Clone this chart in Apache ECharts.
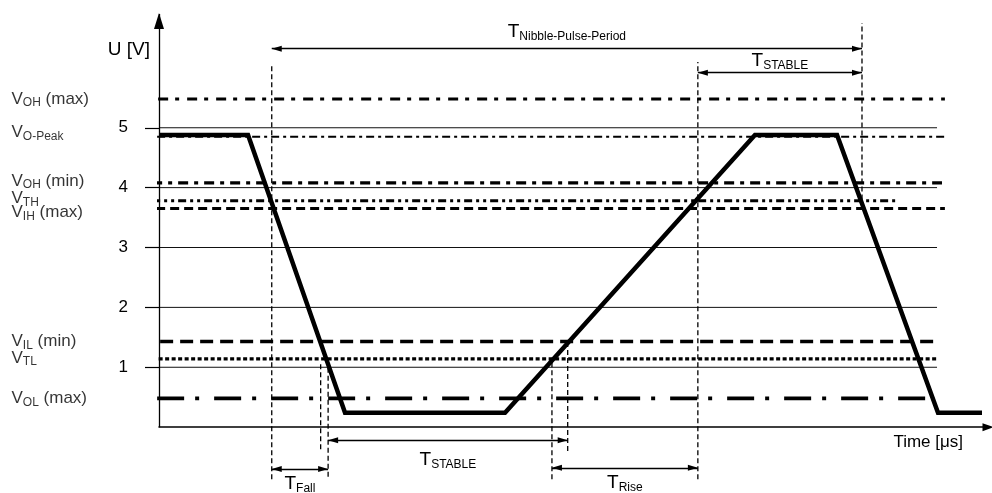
<!DOCTYPE html>
<html><head><meta charset="utf-8">
<script src="https://cdn.jsdelivr.net/npm/echarts@6/dist/echarts.min.js"></script>
<style>html,body{margin:0;padding:0;background:#fff}#c{width:992px;height:493px}</style>
</head><body><div id="c"></div>
<script>
// ---------- data ----------
const yTicks = [1, 2, 3, 4, 5];
const gridlineEnd = 93.85;

const refSub = ['OH', 'O-Peak', 'OH', 'TH', 'IH', 'IL', 'TL', 'OL'];
const refSuffix = [' (max)', '', ' (min)', '', ' (max)', ' (min)', '', ' (max)'];
const refValues = [5.48, 4.85, 4.08, 3.78, 3.65, 1.43, 1.14, 0.48];
const refStart = -7.1;
const refEnd = [94.8, 94.8, 94.45, 89.1, 94.8, 93.85, 93.85, 93.0];

const signalTime = [0, 10.74, 22.44, 41.74, 71.89, 81.79, 93.97, 99.28];
const signalVolt = [4.88, 4.88, 0.24, 0.24, 4.88, 4.88, 0.24, 0.24];

const markerTime = [13.6, 19.5, 20.4, 47.4, 49.3, 65.0, 84.8];
const markerTop = [6.05, 1.10, 1.14, 1.14, 1.43, 6.10, 6.75];
const markerBottom = [-0.87, -0.37, -0.83, -0.87, -0.40, -0.87, 3.80];

const spanSub = ['Nibble-Pulse-Period', 'STABLE', 'STABLE', 'Fall', 'Rise'];
const spanFrom = [13.6, 65.0, 20.4, 13.6, 47.4];
const spanTo = [84.8, 84.8, 49.3, 20.4, 65.0];
const spanLevel = [6.32, 5.92, -0.22, -0.70, -0.68];

const yAxisTop = 6.9;

// ---------- styles (not data) ----------
const FONT = '"Liberation Sans", Arial, sans-serif';
const refStyles = [
  { w: 3.2, dash: [10, 7, 4, 8] },
  { w: 2.2, dash: [8, 4, 3, 4] },
  { w: 3.4, dash: [10, 6, 4, 6] },
  { w: 3.0, dash: [8, 4, 3, 4, 3, 4] },
  { w: 3.0, dash: [9, 5] },
  { w: 3.6, dash: [13, 7] },
  { w: 3.2, dash: [4, 2.5] },
  { w: 3.6, dash: [27, 11, 4, 15] }
];
const refLabelDy = [0, -4, -2, -2, 4, 0, -1, 0];
const refLabelX = -17.85;
const spanLabelPos = ['insideMiddleTop', 'insideMiddleTop', 'insideMiddleBottom', 'insideMiddleBottom', 'insideMiddleBottom'];
const spanLabelDist = [6, 1, 8, 4, 4];
const arrowSize = [6, 10];
const arrowOffset = [0, 5];

const richLeft = {
  v: { fontSize: 17, lineHeight: 20, fontFamily: FONT, color: '#000' },
  s: { fontSize: 12, lineHeight: 14, verticalAlign: 'bottom', fontFamily: FONT, color: '#000' },
  n: { fontSize: 17, lineHeight: 20, fontFamily: FONT, color: '#000' }
};
const richT = {
  t: { fontSize: 19, lineHeight: 22, fontFamily: FONT, color: '#000' },
  s: { fontSize: 12, lineHeight: 14, verticalAlign: 'bottom', fontFamily: FONT, color: '#000' }
};

const series = [];

// grid lines at tick values
yTicks.forEach(v => series.push({
  type: 'line', data: [[0, v], [gridlineEnd, v]], symbol: 'none', silent: true,
  lineStyle: { color: '#111', width: 1 }, z: 1
}));

// reference lines
refValues.forEach((v, i) => series.push({
  type: 'line', data: [[refStart, v], [refEnd[i], v]], symbol: 'none', silent: true, clip: false,
  lineStyle: { color: '#000', width: refStyles[i].w, type: refStyles[i].dash, cap: 'butt' }, z: 2
}));

// reference labels
series.push({
  type: 'scatter', clip: false, silent: true, symbolSize: 1,
  itemStyle: { color: 'rgba(0,0,0,0)' },
  data: refValues.map((v, i) => ({
    value: [refLabelX, v],
    label: {
      show: true, position: 'right', distance: 0, offset: [0, refLabelDy[i]],
      formatter: '{v|V}{s|' + refSub[i] + '}' + (refSuffix[i] ? '{n|' + refSuffix[i] + '}' : ''),
      rich: richLeft
    }
  })),
  z: 5
});

// vertical dashed marker lines
markerTime.forEach((t, i) => series.push({
  type: 'line', data: [[t, markerBottom[i]], [t, markerTop[i]]], symbol: 'none', silent: true, clip: false,
  lineStyle: { color: '#000', width: 1.3, type: [5, 3] }, z: 3
}));

// signal
series.push({
  type: 'line', data: signalTime.map((t, i) => [t, signalVolt[i]]), symbol: 'none', silent: true,
  lineStyle: { color: '#000', width: 4.5, join: 'miter' }, z: 10
});

// annotations: y axis line with arrow + time spans
const mlData = [[
  { coord: [0, 0], symbol: 'none', label: { show: false } },
  { coord: [0, yAxisTop], symbol: 'triangle', symbolSize: [10, 16], symbolOffset: [0, 7] }
]];
spanSub.forEach((s, i) => mlData.push([
  {
    coord: [spanFrom[i], spanLevel[i]], symbol: 'triangle', symbolSize: arrowSize, symbolOffset: arrowOffset,
    label: {
      show: true, position: spanLabelPos[i], distance: spanLabelDist[i],
      formatter: '{t|T}{s|' + s + '}', rich: richT
    }
  },
  { coord: [spanTo[i], spanLevel[i]], symbol: 'triangle', symbolSize: arrowSize, symbolOffset: arrowOffset }
]));
series.push({
  type: 'line', data: [], color: '#000',
  markLine: {
    silent: true, animation: false,
    symbol: ['triangle', 'triangle'],
    lineStyle: { color: '#000', width: 1.3, type: 'solid' },
    itemStyle: { color: '#000' },
    label: { show: false },
    emphasis: { disabled: true },
    data: mlData
  },
  z: 6
});

const chart = echarts.init(document.getElementById('c'), null, { renderer: 'canvas' });
chart.setOption({
  animation: false,
  backgroundColor: '#fff',
  textStyle: { fontFamily: FONT, color: '#000' },
  grid: { left: 159, right: 4, top: 14, height: 480 },
  xAxis: {
    type: 'value', min: 0, max: 100,
    axisLine: { show: true, onZero: true, lineStyle: { color: '#000', width: 1.5 }, symbol: ['none', 'triangle'], symbolSize: [8, 11] },
    axisTick: { show: false }, axisLabel: { show: false }, splitLine: { show: false },
    name: 'Time [μs]', nameLocation: 'end', nameGap: -25,
    nameTextStyle: { fontSize: 17, color: '#000', align: 'right', verticalAlign: 'top', padding: [7, 0, 0, 0], fontFamily: FONT }
  },
  yAxis: {
    type: 'value', min: -1.1, max: yAxisTop,
    axisLine: { show: false },
    axisTick: { show: true, customValues: yTicks, length: 14, lineStyle: { color: '#000', width: 1.2 } },
    axisLabel: { show: true, customValues: yTicks, margin: 31, fontSize: 17, color: '#000', fontFamily: FONT },
    splitLine: { show: false },
    name: 'U [V]', nameLocation: 'end', nameGap: -36,
    nameTextStyle: { fontSize: 19, color: '#000', align: 'right', verticalAlign: 'middle', padding: [0, 9, 0, 0], fontFamily: FONT }
  },
  series: series
});
</script></body></html>
